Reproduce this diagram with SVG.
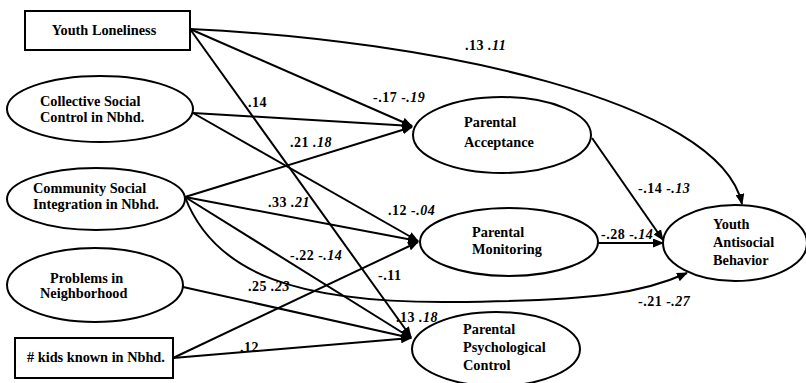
<svg xmlns="http://www.w3.org/2000/svg" width="806" height="383" viewBox="0 0 806 383">
<style>
.n{fill:#fff;stroke:#000;stroke-width:2}
.t{font-family:"Liberation Serif","Times New Roman",serif;font-size:14.3px;font-weight:bold;fill:#000}
.l{font-family:"Liberation Serif","Times New Roman",serif;font-size:14px;font-weight:bold;letter-spacing:0.5px;fill:#000}
.e{fill:none;stroke:#000;stroke-width:2;marker-end:url(#a)}
</style>
<defs>
<marker id="a" markerUnits="userSpaceOnUse" markerWidth="11" markerHeight="9" viewBox="0 0 11 9" refX="10" refY="4.5" orient="auto">
<path d="M0,0 L11,4.5 L0,9 Z" fill="#000"/>
</marker>
</defs>
<rect width="806" height="383" fill="#fff"/>
<g id="connectors">
<path class="e" d="M190,29 C430,40 720,100 742,204"/>
<path class="e" d="M190,29 L412,126"/>
<path class="e" d="M190,29 L411,337"/>
<path class="e" d="M193,113 L412,126"/>
<path class="e" d="M193,113 L418,241"/>
<path class="e" d="M185,197 L412,127"/>
<path class="e" d="M185,197 L418,241"/>
<path class="e" d="M185,197 L411,338"/>
<path class="e" d="M185,197 C215,275 300,303 450,302 S645,292 687,273"/>
<path class="e" d="M183,287 L411,338"/>
<path class="e" d="M173,358 L418,242"/>
<path class="e" d="M173,358 L411,338"/>
<path class="e" d="M592,138 L663,240"/>
<path class="e" d="M598,243 L663,243"/>
</g>
<g id="labels">
<text class="l" x="465" y="50">.13 <tspan font-style="italic">.11</tspan></text>
<text class="l" x="373" y="102">-.17 <tspan font-style="italic">-.19</tspan></text>
<text class="l" x="248" y="107">.14</text>
<text class="l" x="290" y="147">.21 <tspan font-style="italic">.18</tspan></text>
<text class="l" x="268" y="207">.33 <tspan font-style="italic">.21</tspan></text>
<text class="l" x="388" y="215">.12 <tspan font-style="italic">-.04</tspan></text>
<text class="l" x="290" y="260">-.22 <tspan font-style="italic">-.14</tspan></text>
<text class="l" x="378" y="280">-.11</text>
<text class="l" x="248" y="291">.25 <tspan font-style="italic">.23</tspan></text>
<text class="l" x="396" y="322">.13 <tspan font-style="italic">.18</tspan></text>
<text class="l" x="240" y="352">.12</text>
<text class="l" x="638" y="193">-.14 <tspan font-style="italic">-.13</tspan></text>
<text class="l" x="601" y="239">-.28 <tspan font-style="italic">-.14</tspan></text>
<text class="l" x="638" y="306">-.21 <tspan font-style="italic">-.27</tspan></text>
</g>
<g id="youth-loneliness">
<rect class="n" x="25" y="11" width="165" height="39"/>
<text class="t" x="104" y="35" text-anchor="middle">Youth Loneliness</text>
</g>
<g id="collective-social-control">
<ellipse class="n" cx="100" cy="109" rx="93" ry="33"/>
<text class="t" x="40" y="106">Collective Social</text>
<text class="t" x="40" y="122">Control in Nbhd.</text>
</g>
<g id="community-social-integration">
<ellipse class="n" cx="96" cy="199" rx="89" ry="31"/>
<text class="t" x="33" y="193">Community Social</text>
<text class="t" x="33" y="209">Integration in Nbhd.</text>
</g>
<g id="problems-in-neighborhood">
<ellipse class="n" cx="95" cy="285" rx="88" ry="37"/>
<text class="t" x="50" y="283">Problems in</text>
<text class="t" x="40" y="298">Neighborhood</text>
</g>
<g id="kids-known">
<rect class="n" x="15" y="338" width="158" height="40"/>
<text class="t" x="27" y="362"># kids known in Nbhd.</text>
</g>
<g id="parental-acceptance">
<ellipse class="n" cx="502" cy="135" rx="89" ry="38"/>
<text class="t" x="464" y="127">Parental</text>
<text class="t" x="464" y="147">Acceptance</text>
</g>
<g id="parental-monitoring">
<ellipse class="n" cx="509" cy="242" rx="89" ry="34"/>
<text class="t" x="472" y="237">Parental</text>
<text class="t" x="472" y="254">Monitoring</text>
</g>
<g id="parental-psychological-control">
<ellipse class="n" cx="496" cy="349" rx="84" ry="37"/>
<text class="t" x="463" y="334">Parental</text>
<text class="t" x="463" y="352">Psychological</text>
<text class="t" x="463" y="370">Control</text>
</g>
<g id="youth-antisocial-behavior">
<ellipse class="n" cx="735" cy="243" rx="72" ry="38"/>
<text class="t" x="713" y="229">Youth</text>
<text class="t" x="713" y="247">Antisocial</text>
<text class="t" x="713" y="265">Behavior</text>
</g>
</svg>
